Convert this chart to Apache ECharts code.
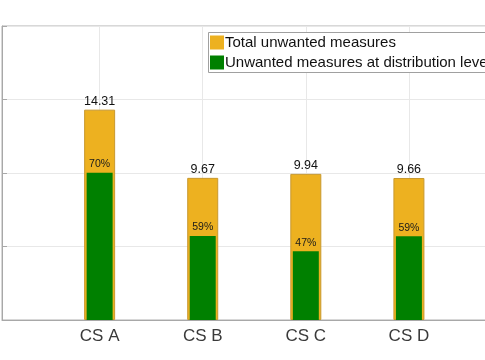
<!DOCTYPE html>
<html>
<head>
<meta charset="utf-8">
<script src="https://cdn.jsdelivr.net/npm/echarts@6/dist/echarts.min.js"></script>
<style>html,body{margin:0;padding:0;background:#fff}#c{width:485px;height:360px}</style>
</head>
<body>
<div id="c"></div>
<script>
const categories = ['CS A', 'CS B', 'CS C', 'CS D'];
const totals = [14.31, 9.67, 9.94, 9.66];
const totalLabels = ['14.31', '9.67', '9.94', '9.66'];
const distribution = [10.02, 5.71, 4.67, 5.70];
const pctLabels = ['70%', '59%', '47%', '59%'];
const seriesNames = ['Total unwanted measures', 'Unwanted measures at distribution level'];

const FONT = 'Liberation Sans, Arial, sans-serif';
const chart = echarts.init(document.getElementById('c'), null, {renderer: 'canvas'});

function xAxisDef(show) {
  return {
    type: 'value', min: 0.053, max: 5, splitNumber: 5,
    show: true,
    axisLine: {show: show, onZero: false, lineStyle: {color: '#a8a8a8', width: 1}},
    axisTick: {show: false},
    splitLine: {show: show, lineStyle: {color: '#e8e8e8', width: 1}},
    axisLabel: {
      show: show, margin: 8, fontSize: 17, fontFamily: FONT, color: '#3a3a3a',
      formatter: function (v) {
        const i = Math.round(v) - 1;
        return (Math.abs(v - Math.round(v)) < 1e-6 && categories[i]) ? categories[i] : '';
      }
    }
  };
}

chart.setOption({
  animation: false,
  backgroundColor: '#ffffff',
  textStyle: {fontFamily: FONT},
  grid: {left: 2, width: 510, top: 26, height: 294, outerBoundsMode: 'none', containLabel: false,
         show: true, borderColor: '#b0b0b0', borderWidth: 1, backgroundColor: 'transparent'},
  graphic: [{
    type: 'rect', left: 208, top: 32, z: 10, silent: true,
    shape: {width: 320, height: 40},
    style: {fill: '#ffffff', stroke: '#a0a0a0', lineWidth: 1}
  }],
  legend: {
    orient: 'vertical', left: 208, top: 32, z: 20,
    padding: [3, 0, 3, 2],
    itemWidth: 14, itemHeight: 14, itemGap: 5,
    borderWidth: 0,
    textStyle: {fontSize: 15, color: '#111', fontFamily: FONT, padding: [0, 0, 0, -4]},
    icon: 'rect',
    itemStyle: {borderWidth: 0},
    data: seriesNames
  },
  xAxis: [xAxisDef(true), xAxisDef(false)],
  yAxis: {
    type: 'value', min: 0, max: 20, interval: 5,
    axisLine: {show: true, lineStyle: {color: '#a8a8a8'}},
    axisTick: {show: true, inside: true, length: 5, lineStyle: {color: '#a8a8a8'}},
    axisLabel: {show: false},
    splitLine: {show: true, lineStyle: {color: '#e8e8e8', width: 1}}
  },
  series: [
    {
      name: seriesNames[0], type: 'bar', xAxisIndex: 0, barWidth: 31,
      data: categories.map((c, i) => [i + 1, totals[i]]),
      itemStyle: {color: '#EDB120', borderColor: '#C8982E', borderWidth: 1},
      label: {
        show: true, position: 'top', distance: 2, fontSize: 12.5, color: '#111', fontFamily: FONT,
        formatter: p => totalLabels[p.dataIndex]
      }
    },
    {
      name: seriesNames[1], type: 'bar', xAxisIndex: 1, barWidth: 26,
      data: categories.map((c, i) => [i + 1, distribution[i]]),
      itemStyle: {color: '#008000'},
      label: {
        show: true, position: 'top', distance: 3, fontSize: 10.5, color: '#1a1a1a', fontFamily: FONT,
        formatter: p => pctLabels[p.dataIndex]
      }
    }
  ]
});
</script>
</body>
</html>
